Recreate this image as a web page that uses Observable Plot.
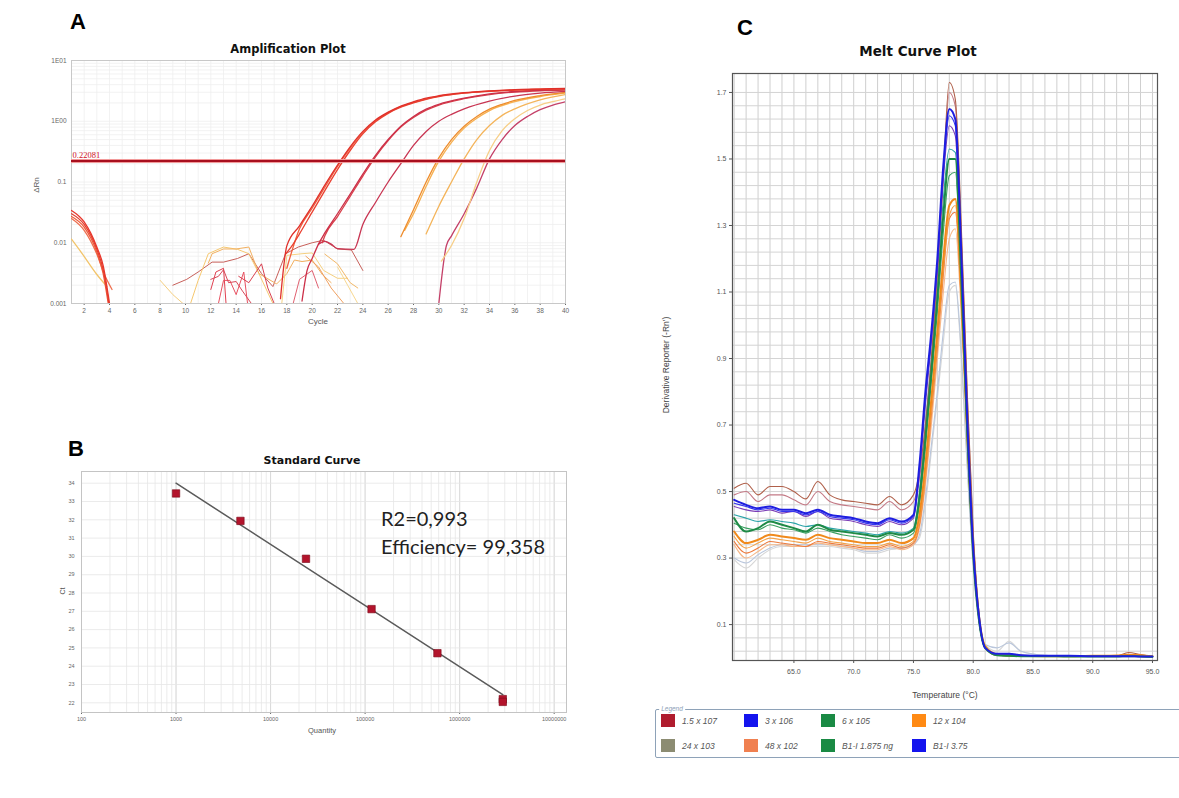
<!DOCTYPE html>
<html><head><meta charset="utf-8">
<script src="https://cdn.jsdelivr.net/npm/d3@7"></script>
<script src="https://cdn.jsdelivr.net/npm/@observablehq/plot@0.6"></script>
<style>
body{margin:0;background:#fff;}
#root{position:relative;width:1179px;height:798px;overflow:hidden;background:#fff;font-family:"Liberation Sans",Arial,sans-serif;}
.t{position:absolute;white-space:nowrap;line-height:1;}
</style></head>
<body><div id="root"></div>
<script>
// ---------------- Panel A : Amplification Plot ----------------
const ampXTicks = [2,4,6,8,10,12,14,16,18,20,22,24,26,28,30,32,34,36,38,40];
const ampYTicks = [0.001,0.01,0.1,1,10];
const ampYLabels = ["0.001","0.01","0.1","1E00","1E01"];
const threshold = 0.22081;

const amp1a = [[17.5,0.0012],[18,0.0089],[19,0.019],[20,0.04],[21,0.089],[22,0.19],[23,0.38],[24,0.68],[25,1.05],[26,1.41],[27,1.78],[28,2.09],[29,2.4],[30,2.63],[32,2.95],[34,3.16],[36,3.31],[38,3.39],[40,3.47]];
const amp1b = [[17.9,0.0065],[18.5,0.0095],[19,0.014],[20,0.032],[21,0.072],[22,0.16],[23,0.33],[24,0.62],[25,0.98],[26,1.35],[27,1.7],[28,2.0],[29,2.3],[30,2.55],[32,2.9],[34,3.1],[36,3.25],[38,3.35],[40,3.42]];
const amp1c = [[18,0.0038],[19,0.017],[20,0.037],[21,0.082],[22,0.18],[23,0.36],[24,0.65],[25,1.02],[26,1.38],[27,1.74],[28,2.05],[30,2.6],[32,2.92],[34,3.13],[36,3.28],[38,3.37],[40,3.45]];
const amp2a = [[19.2,0.0011],[19.6,0.0035],[20,0.0055],[20.5,0.0095],[21,0.0145],[22,0.03],[23,0.063],[24,0.135],[25,0.275],[26,0.5],[27,0.83],[28,1.2],[29,1.58],[30,1.9],[32,2.4],[34,2.82],[36,3.09],[38,3.24],[40,3.31]];
const amp2b = [[20.8,0.01],[21,0.013],[22,0.027],[23,0.058],[24,0.125],[25,0.26],[26,0.48],[27,0.8],[28,1.15],[29,1.52],[30,1.85],[32,2.35],[34,2.75],[36,3.02],[38,3.18],[40,3.26]];
const amp3 = [[20.5,0.0095],[21,0.0105],[21.5,0.0095],[22,0.008],[23.3,0.0078],[24,0.02],[25,0.046],[26,0.1],[27,0.2],[28,0.4],[29,0.68],[30,1.0],[31,1.3],[32,1.6],[34,2.15],[36,2.6],[38,2.9],[40,3.1]];
const amp4a = [[27,0.0126],[28,0.035],[29,0.1],[30,0.25],[31,0.5],[32,0.83],[33,1.2],[34,1.58],[35,1.9],[36,2.2],[38,2.65],[40,3.0]];
const amp4b = [[27.3,0.016],[28,0.03],[29,0.085],[30,0.22],[31,0.45],[32,0.77],[33,1.12],[34,1.5],[36,2.1],[38,2.55],[40,2.9]];
const amp5 = [[29,0.014],[30,0.04],[31,0.1],[32,0.24],[33,0.5],[34,0.85],[35,1.25],[36,1.6],[38,2.25],[40,2.75]];
const amp6 = [[30.2,0.005],[31,0.009],[32,0.025],[33,0.1],[34,0.33],[35,0.7],[36,1.1],[37,1.5],[38,1.85],[39,2.1],[40,2.35]];
const amp7 = [[30,0.001],[30.6,0.009],[31,0.013],[32,0.03],[33,0.08],[34,0.24],[35,0.5],[36,0.85],[37,1.2],[38,1.55],[39,1.85],[40,2.1]];

const early1 = [[1,0.034],[2,0.022],[3,0.0085],[3.5,0.0042],[4,0.001]];
const early2 = [[1,0.030],[2,0.02],[3,0.0078],[3.5,0.0036],[3.95,0.001]];
const early3 = [[1,0.027],[2,0.018],[3,0.007],[3.5,0.0031],[3.9,0.001]];
const early4 = [[1,0.025],[2,0.016],[3,0.0065],[3.6,0.003],[4.2,0.0017]];
const early5 = [[1,0.0115],[1.7,0.0073],[3,0.003],[3.8,0.0019]];

const noise1 = [[9,0.002],[10.1,0.0025],[11,0.0033],[12.1,0.0048],[13,0.0048],[14.1,0.0055],[15,0.0066],[16,0.0031],[16.9,0.0019],[17.9,0.0066],[18.9,0.0085],[20,0.01],[20.9,0.011],[22,0.0079],[23.1,0.0076],[24,0.0035]];
const noise2 = [[8,0.0024],[9,0.0014],[9.8,0.001]];
const noise3 = [[10.4,0.001],[11,0.0024],[11.8,0.0066],[13,0.0085],[14.1,0.0078],[15,0.0066],[15.8,0.0031],[16.9,0.001]];
const noise4 = [[11.8,0.0046],[12.1,0.0066],[13,0.0079],[14,0.0079],[15,0.0085],[15.8,0.0031],[17.2,0.0021],[18,0.0031],[18.6,0.0052],[19.2,0.0049],[20,0.0052],[20.8,0.003],[21.5,0.0022]];
const noise5 = [[12,0.0017],[12.4,0.0033],[13,0.0038],[13.2,0.001]];
const noise6 = [[12.6,0.001],[13,0.0024],[13.5,0.0024],[14,0.0014],[14.6,0.0033],[14.9,0.001]];
const noise7 = [[12,0.0025],[12.6,0.0028],[13,0.0036],[13.4,0.0022],[14,0.0023],[14.5,0.0016],[15.2,0.001]];
const noise8 = [[17.6,0.001],[18,0.0062],[19.2,0.0066],[20,0.0068],[20.9,0.0035],[22,0.0026],[22.8,0.0026]];
const noise9 = [[19.5,0.006],[20.5,0.004],[21.5,0.0018],[22.5,0.001]];
const noise10 = [[14.2,0.0028],[15,0.0022],[16,0.0045],[16.5,0.0018],[17,0.001]];
const noise11 = [[18.5,0.001],[19,0.0025],[20,0.0035],[20.5,0.0018]];
const noise12 = [[21,0.0065],[22,0.0045],[23,0.0022],[23.6,0.0018]];
const noise13 = [[22,0.004],[22.8,0.002],[23.6,0.001]];

const ampSmooth = [
  [amp7,"#c44068"],[amp6,"#f7cf88"],[amp5,"#f4b45a"],[amp4b,"#f6b050"],[amp4a,"#ee8c2c"],
  [amp3,"#c83552"],[amp2b,"#d8404a"],[amp2a,"#cc2f48"],
  [amp1c,"#f06040"],[amp1b,"#ea4030"],[amp1a,"#e0302a"],
  [early5,"#f2c46a"],[early4,"#ee7050"],[early3,"#f05a3a"],[early2,"#e24232"],[early1,"#e8352a"]
];
const ampNoise = [
  [noise1,"#c8605a"],[noise2,"#f5cf80"],[noise3,"#f6c870"],[noise4,"#f2b060"],[noise5,"#e04050"],[noise6,"#e85060"],
  [noise7,"#d84858"],[noise8,"#f5d080"],[noise9,"#f0a060"],[noise10,"#d84050"],[noise11,"#e06070"],[noise12,"#f2b868"],[noise13,"#f8d890"]
];

// ---------------- Panel B : Standard Curve ----------------
const stdQuantity = [1000, 4800, 23700, 117000, 582000, 2860000, 2860000];
const stdCt = [33.44, 31.94, 29.87, 27.12, 24.71, 22.2, 22.05];
const stdFitQuantity = [1000, 2860000];
const stdFitCt = [34.0, 22.45];
const stdXTicks = [100,1000,10000,100000,1000000,10000000];
const stdYTicks = [22,23,24,25,26,27,28,29,30,31,32,33,34];
const stdAnnot = ["R2=0,993","Efficiency= 99,358"];

// ---------------- Panel C : Melt Curve Plot ----------------
const meltTemps = [60,61,62,63,64,65,66,67,68,69,70,71,72,73,74,75,75.5,76,76.5,77,77.5,78,78.5,79,79.5,80,80.5,81,82,83,84,86,88,90,92,93,94,95];
const meltXTicks = [65,70,75,80,85,90,95];
const meltYTicks = [0.1,0.3,0.5,0.7,0.9,1.1,1.3,1.5,1.7];
const melt1 = [.51,.525,.49,.515,.515,.50,.478,.53,.49,.475,.47,.465,.46,.485,.46,.49,.56,.70,.90,1.16,1.46,1.73,1.68,1.30,.80,.38,.13,.03,.008,.006,.005,.004,.004,.005,.006,.016,.01,.004];
const melt2 = [.49,.50,.47,.49,.49,.475,.46,.50,.47,.46,.455,.45,.445,.47,.445,.47,.54,.68,.88,1.14,1.44,1.70,1.66,1.28,.79,.37,.12,.03,.007,.006,.005,.004,.004,.004,.005,.006,.005,.003];
const melt3 = [.475,.46,.45,.455,.445,.445,.435,.445,.43,.425,.42,.41,.405,.42,.41,.43,.58,.80,.98,1.20,1.48,1.65,1.62,1.22,.72,.33,.12,.03,.012,.012,.008,.006,.006,.005,.005,.005,.004,.004];
const melt4 = [.465,.455,.445,.45,.44,.44,.43,.44,.425,.42,.415,.405,.40,.415,.405,.425,.57,.78,.96,1.18,1.46,1.63,1.60,1.20,.70,.32,.11,.03,.012,.01,.008,.006,.005,.005,.005,.005,.004,.004];
const melt5 = [.455,.445,.44,.445,.435,.44,.425,.44,.42,.415,.41,.40,.395,.41,.40,.42,.55,.76,.95,1.17,1.44,1.60,1.57,1.18,.70,.32,.11,.03,.01,.008,.006,.005,.005,.005,.005,.005,.004,.004];
const melt6 = [.43,.42,.41,.415,.41,.405,.395,.40,.39,.385,.38,.375,.37,.38,.375,.39,.50,.70,.90,1.12,1.38,1.53,1.52,1.15,.68,.31,.11,.03,.008,.006,.005,.005,.004,.004,.004,.005,.004,.003];
const melt7 = [.42,.38,.39,.41,.40,.39,.38,.40,.385,.38,.375,.37,.365,.375,.37,.385,.48,.66,.86,1.08,1.33,1.50,1.50,1.14,.68,.31,.11,.03,.008,.006,.005,.005,.004,.004,.004,.005,.004,.003];
const melt8 = [.405,.39,.385,.40,.39,.385,.375,.39,.38,.37,.365,.36,.355,.37,.36,.375,.46,.63,.83,1.04,1.28,1.45,1.46,1.12,.67,.31,.11,.03,.008,.006,.005,.005,.004,.004,.004,.005,.004,.003];
const melt9 = [.38,.345,.355,.37,.365,.36,.355,.37,.36,.355,.35,.345,.345,.355,.345,.36,.43,.58,.78,.98,1.20,1.36,1.38,1.10,.68,.33,.12,.035,.01,.007,.006,.005,.005,.006,.007,.009,.008,.005];
const melt10 = [.365,.33,.345,.36,.355,.35,.345,.36,.35,.345,.34,.335,.335,.345,.335,.35,.41,.55,.75,.95,1.17,1.33,1.36,1.08,.67,.32,.12,.035,.01,.007,.006,.005,.005,.006,.007,.008,.008,.005];
const melt11 = [.35,.315,.33,.35,.345,.34,.335,.35,.345,.34,.335,.33,.33,.34,.33,.345,.40,.54,.73,.93,1.15,1.32,1.34,1.07,.66,.32,.12,.035,.009,.007,.006,.005,.005,.005,.006,.007,.007,.004];
const melt12 = [.34,.30,.32,.34,.34,.335,.335,.345,.34,.335,.33,.325,.325,.335,.325,.34,.39,.52,.70,.90,1.10,1.26,1.29,1.03,.64,.31,.12,.035,.009,.007,.006,.005,.005,.005,.006,.007,.006,.004];
const melt13 = [.30,.285,.31,.33,.34,.34,.34,.34,.34,.335,.33,.32,.32,.33,.33,.34,.37,.48,.64,.80,.98,1.12,1.13,.92,.58,.28,.10,.04,.03,.045,.02,.008,.006,.005,.005,.005,.004,.004];
const melt14 = [.295,.27,.30,.325,.335,.335,.335,.335,.335,.33,.325,.315,.315,.325,.33,.345,.36,.46,.62,.78,.95,1.10,1.12,.90,.57,.27,.10,.04,.02,.05,.02,.008,.006,.005,.005,.005,.004,.004];
const meltSeries = [
  [melt14,"#d6d6d6",1],[melt13,"#b9c6dc",1],[melt12,"#f7b888",1],[melt11,"#ec7a3c",1.2],[melt10,"#f4a24a",1.2],[melt9,"#f08a1c",1.8],
  [melt8,"#3aa060",1],[melt7,"#1e8a46",1.8],[melt6,"#2aa3a8",1],[melt2,"#c47a86",1],[melt1,"#b0604a",1.2],
  [melt5,"#7b3db5",1.3],[melt4,"#3434f0",1.4],[melt3,"#1e1ee0",2]
];
const legendLabels = ["1.5 x 107","3 x 106","6 x 105","12 x 104","24 x 103","48 x 102","B1-I 1.875 ng","B1-I 3.75"];
const legendColors = ["#b01c2e","#1414ee","#1a8a44","#ff8a14","#8c8c72","#f08050","#1a8a44","#1414ee"];

// ---------------- helpers ----------------
const root = document.getElementById("root");
function txt(s, x, y, css) {
  const d = document.createElement("div");
  d.className = "t"; d.textContent = s;
  d.style.cssText += `left:${x}px;top:${y}px;transform:translate(-50%,-50%)${css.rot ? " rotate(-90deg)" : ""};` + (css.style || "");
  root.append(d); return d;
}
function place(node, left, top) {
  const w = document.createElement("div");
  w.style.cssText = `position:absolute;left:${left}px;top:${top}px;`;
  w.append(node); root.append(w);
}
const toRows = list => list.flatMap(([pts, color], i) => pts.map(([x, y]) => ({x, y, id: i, color})));

// ---------------- Panel A plot ----------------
const ampGridX = d3.range(1, 41);
const ampGridY = [0.001,0.01,0.1,1].flatMap(e => [1,2,3,4,5,6,7,8,9].map(k => k * e)).concat([10]);
const smoothRows = toRows(ampSmooth);
const noiseRows = toRows(ampNoise);
const plotA = Plot.plot({
  width: 560, height: 285, marginLeft: 51, marginRight: 15, marginTop: 5, marginBottom: 37,
  style: {fontFamily: "Liberation Sans, Arial, sans-serif", fontSize: "6.5px", color: "#666", background: "transparent", overflow: "visible"},
  x: {domain: [1, 40], ticks: ampXTicks, tickSize: 2, tickPadding: 3, label: null},
  y: {type: "log", domain: [0.001, 10], ticks: ampYTicks, tickFormat: d => ampYLabels[ampYTicks.indexOf(d)] ?? "", tickSize: 0, tickPadding: 5, label: null},
  color: {type: "identity"},
  marks: [
    Plot.ruleX(ampGridX, {stroke: "#efefef", strokeWidth: 0.8}),
    Plot.ruleY(ampGridY, {stroke: "#efefef", strokeWidth: 0.8}),
    Plot.frame({stroke: "#c8c8c8"}),
    Plot.line(noiseRows, {x: "x", y: "y", z: "id", stroke: "color", strokeWidth: 1, clip: true}),
    Plot.line(smoothRows, {x: "x", y: "y", z: "id", stroke: "color", strokeWidth: 1.3, curve: "monotone-x", clip: true}),
    Plot.ruleY([threshold], {stroke: "#f29a9a", strokeWidth: 4}),
    Plot.ruleY([threshold], {stroke: "#a80f1e", strokeWidth: 2}),
    Plot.text([threshold], {x: 1, y: d => d, text: d => String(d), dy: -6, dx: 1, textAnchor: "start", fill: "#d0101e", fontSize: 8.5, fontFamily: "Liberation Serif, serif"})
  ]
});
place(plotA, 20, 55);
txt("A", 78, 22, {style: "font-weight:bold;font-size:22px;color:#000;"});
txt("Amplification Plot", 288, 50, {style: "font-family:'DejaVu Sans',sans-serif;font-weight:bold;font-size:11.5px;color:#111;"});
txt("Cycle", 318, 322, {style: "font-size:8px;color:#555;"});
txt("ΔRn", 37, 185, {rot: true, style: "font-size:8px;color:#555;"});

// ---------------- Panel B plot ----------------
const stdGridX = [100,1000,10000,100000,1000000].flatMap(e => [1,2,3,4,5,6,7,8,9].map(k => k * e)).concat([10000000]);
const stdRows = stdQuantity.map((q, i) => ({q, ct: stdCt[i]}));
const fitRows = stdFitQuantity.map((q, i) => ({q, ct: stdFitCt[i]}));
const plotB = Plot.plot({
  width: 540, height: 275, marginLeft: 41, marginRight: 14, marginTop: 6, marginBottom: 28,
  style: {fontFamily: "Liberation Sans, Arial, sans-serif", fontSize: "5.5px", color: "#666", background: "transparent", overflow: "visible"},
  x: {type: "log", domain: [100, 13500000], ticks: stdXTicks, tickFormat: d => String(d), tickSize: 2, tickPadding: 3, label: null},
  y: {domain: [21.47, 34.64], ticks: stdYTicks, tickSize: 0, tickPadding: 7, label: null},
  marks: [
    Plot.ruleX(stdGridX, {stroke: "#e6e6e6", strokeWidth: 0.8}),
    Plot.ruleX(stdXTicks, {stroke: "#d6d6d6", strokeWidth: 0.8}),
    Plot.ruleY(stdYTicks, {stroke: "#e6e6e6", strokeWidth: 0.8}),
    Plot.frame({stroke: "#c4c4c4"}),
    Plot.line(fitRows, {x: "q", y: "ct", stroke: "#5a5a5a", strokeWidth: 1.5}),
    Plot.dot(stdRows, {x: "q", y: "ct", symbol: "square", r: 4.2, fill: "#b3142c", stroke: "#7a0a1a", strokeWidth: 0.6})
  ]
});
place(plotB, 40, 465);
txt("B", 76, 449, {style: "font-weight:bold;font-size:22px;color:#000;"});
txt("Standard Curve", 312, 460, {style: "font-family:'DejaVu Sans',sans-serif;font-weight:bold;font-size:11px;color:#111;"});
txt("Quantity", 322, 731, {style: "font-size:7.5px;color:#555;"});
txt("Ct", 62, 591, {rot: true, style: "font-size:7px;color:#555;"});
stdAnnot.forEach((s, i) => {
  const d = txt(s, 381, 518 + i * 28, {style: "font-family:Lato,'Open Sans',sans-serif;font-size:20px;color:#222;"});
  d.style.transform = "translate(0,-50%)";
});

// ---------------- Panel C plot ----------------
const meltGridX = d3.range(60, 96);
const meltGridY = d3.range(1, 44).map(k => +(k * 0.04 - 0.02).toFixed(2));
const meltRows = meltSeries.flatMap(([vals, color, w], i) => vals.map((v, j) => ({t: meltTemps[j], v, id: i, color, w})));
const plotC = Plot.plot({
  width: 529, height: 640, marginLeft: 82, marginRight: 22, marginTop: 8, marginBottom: 45,
  style: {fontFamily: "Liberation Sans, Arial, sans-serif", fontSize: "7px", color: "#555", background: "transparent", overflow: "visible"},
  x: {domain: [59.86, 95.42], ticks: meltXTicks, tickFormat: d => d.toFixed(1), tickSize: 3, tickPadding: 6, label: null},
  y: {domain: [-0.008, 1.757], ticks: meltYTicks, tickFormat: d => d.toFixed(1), tickSize: 3, tickPadding: 3, label: null},
  color: {type: "identity"},
  marks: [
    Plot.ruleX(meltGridX, {stroke: "#cfcfcf", strokeWidth: 1}),
    Plot.ruleY(meltGridY, {stroke: "#d4d4d4", strokeWidth: 1}),
    Plot.line(meltRows.filter(d => d.w < 1.5), {x: "t", y: "v", z: "id", stroke: "color", strokeWidth: 1.1, curve: "monotone-x", clip: true}),
    Plot.line(meltRows.filter(d => d.w >= 1.5), {x: "t", y: "v", z: "id", stroke: "color", strokeWidth: 2, curve: "monotone-x", clip: true}),
    Plot.frame({stroke: "#555", strokeWidth: 1.2})
  ]
});
place(plotC, 650, 65);
txt("C", 745, 28, {style: "font-weight:bold;font-size:22px;color:#000;"});
txt("Melt Curve Plot", 918, 52, {style: "font-family:'DejaVu Sans',sans-serif;font-weight:bold;font-size:13.5px;color:#111;"});
txt("Temperature (°C)", 945, 695, {style: "font-size:8.5px;color:#444;"});
txt("Derivative Reporter (-Rn')", 666, 365, {rot: true, style: "font-size:8.5px;color:#444;"});

// legend box
const box = document.createElement("div");
box.style.cssText = "position:absolute;left:655px;top:709px;width:600px;height:47px;border:1px solid #8ea2b8;border-radius:2px;";
root.append(box);
txt("Legend", 672, 709, {style: "font-size:6.5px;color:#8ea2b8;font-style:italic;background:#fff;padding:0 2px;"});
const legX = [661, 744, 821, 912];
legendLabels.forEach((s, i) => {
  const col = i % 4, row = Math.floor(i / 4);
  const sw = document.createElement("div");
  sw.style.cssText = `position:absolute;left:${legX[col]}px;top:${714 + row * 25}px;width:14px;height:13px;background:${legendColors[i]};`;
  root.append(sw);
  const d = txt(s, legX[col] + 21, 721 + row * 25, {style: "font-size:8.5px;font-style:italic;color:#555;"});
  d.style.transform = "translate(0,-50%)";
});
</script></body></html>
